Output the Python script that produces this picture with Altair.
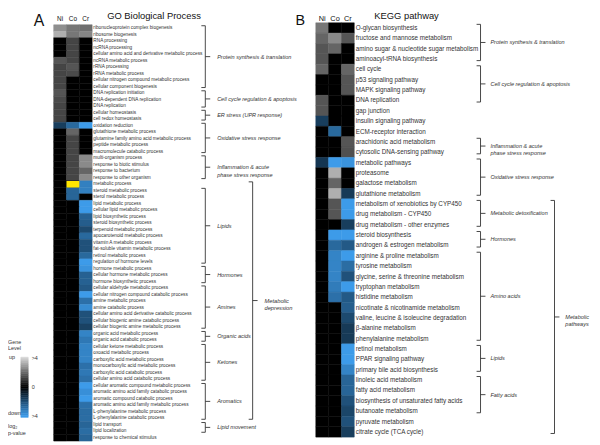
import altair as alt
import pandas as pd

FONT = "Liberation Sans"
INK = "#333333"

samples = ["Ni", "Co", "Cr"]

# ---------------- GO Biological Process (panel A) ----------------
go_terms = [
    "ribonucleoprotein complex biogenesis", "ribosome biogenesis", "RNA processing",
    "ncRNA processing", "cellular amino acid and derivative metabolic process",
    "ncRNA metabolic process", "rRNA processing", "rRNA metabolic process",
    "cellular nitrogen compound metabolic process", "cellular component biogenesis",
    "DNA replication initiation", "DNA-dependent DNA replication", "DNA replication",
    "cellular homeostasis", "cell redox homeostasis", "oxidation reduction",
    "glutathione metabolic process", "glutamine family amino acid metabolic process",
    "peptide metabolic process", "macromolecule catabolic process", "multi-organism process",
    "response to biotic stimulus", "response to bacterium", "response to other organism",
    "metabolic process", "steroid metabolic process", "sterol metabolic process",
    "lipid metabolic process", "cellular lipid metabolic process", "lipid biosynthetic process",
    "steroid biosynthetic process", "terpenoid metabolic process",
    "apocarotenoid metabolic process", "vitamin A metabolic process",
    "fat-soluble vitamin metabolic process", "retinol metabolic process",
    "regulation of hormone levels", "hormone metabolic process",
    "cellular hormone metabolic process", "hormone biosynthetic process",
    "cellular aldehyde metabolic process", "cellular nitrogen compound catabolic process",
    "amine metabolic process", "amine catabolic process",
    "cellular amino acid derivative catabolic process",
    "cellular biogenic amine catabolic process", "cellular biogenic amine metabolic process",
    "organic acid metabolic process", "organic acid catabolic process",
    "cellular ketone metabolic process", "oxoacid metabolic process",
    "carboxylic acid metabolic process", "monocarboxylic acid metabolic process",
    "carboxylic acid catabolic process", "cellular amino acid catabolic process",
    "cellular aromatic compound metabolic process",
    "aromatic amino acid family catabolic process", "aromatic compound catabolic process",
    "aromatic amino acid family metabolic process", "L-phenylalanine metabolic process",
    "L-phenylalanine catabolic process", "lipid transport", "lipid localization",
    "response to chemical stimulus",
]
go_ni = [2.7, 3.3, 0, 0, 0, 1.6, 1.3, 1.3, 1.3, 1.3, 1.6, 1.4, 1.3, 1.3, 1.3, -1.6,
         0, 0, 0, 0, 0, 0, 0, 0, 0, 0, 0, 0, 0, 0, 0, 0, 0, 0, 0, 0, 0, 0, 0, 0,
         0, 0, 0, 0, 0, 0, 0, 0, 0, 0, 0, 0, 0, 0, 0, 0, 0, 0, 0, 0, 0, 0, 0, 0]
go_co = [2.25, 2.25, 1.3, 1.3, 1.3, 1.3, 1.6, 1.4, 0, 0, 0, 0, 0, 0, 0, -2.7,
         1.9, 1.3, 1.3, 1.3, 1.3, 1.3, 1.3, 1.3, 0, -2.6, -2.6, 0, 0, 0, 0, 0,
         0, 0, 0, 0, 0, 0, 0, 0, 0, 0, 0, 0, 0, 0, 0, 0, 0, 0, 0, 0, 0, 0, 0, 0,
         0, 0, 0, 0, 0, 0, 0, 0]
go_cr = [2.1, 2.5, 0, 0, 0, 0, 0, 0, 0, 0, 0, 0, 0, 0, 0, -4,
         0, 0, 0, 0, 2.6, 2.6, 1.9, 2.6, -3.3, -3.3, 0, -4, -4, -2.5, -2.4, -1.9,
         -2.7, -2.1, -2.1, -2.7, -4, -3.8, -2.5, -2.5, -2.3, -4, -2.9, -3.6, -2.1, -2.1, -1.7, -3.4,
         -3.1, -3.4, -3.4, -3.4, -2.9, -3.1, -2.9, -4, -3.7, -4, -2.9, -2.8, -2.8, -2.6, -2.8, -2.6]
go_highlight_terms = ["metabolic process"]
go_highlight_samples = ["Co"]

go_group_labels = ["Protein synthesis & translation", "Cell cycle regulation &  apoptosis",
                   "ER stress (UPR response)", "Oxidative stress response",
                   "Inflammation & acute\nphase stress response", "Lipids", "Hormones",
                   "Amines", "Organic acids", "Ketones", "Aromatics", "Lipid movement"]
go_group_first = [0, 10, 13, 15, 20, 25, 37, 40, 47, 49, 55, 61]
go_group_last = [9, 12, 14, 19, 23, 36, 39, 46, 48, 54, 60, 62]
go_super_labels = ["Metabolic\ndepression"]
go_super_first = [24]
go_super_last = [60]

# ---------------- KEGG pathway (panel B) ----------------
kegg_terms = [
    "O-glycan biosynthesis", "fructose and mannose metabolism",
    "amino sugar & nucleotide sugar metabolism", "aminoacyl-tRNA biosynthesis", "cell cycle",
    "p53 signaling pathway", "MAPK signaling pathway", "DNA replication", "gap junction",
    "insulin signaling pathway", "ECM-receptor interaction", "arachidonic acid metabolism",
    "cytosolic DNA-sensing pathway", "metabolic pathways", "proteasome",
    "galactose metabolism", "glutathione metabolism", "metabolism of xenobiotics by CYP450",
    "drug metabolism - CYP450", "drug metabolism - other enzymes", "steroid biosynthesis",
    "androgen & estrogen metabolism", "arginine & proline metabolism", "tyrosine metabolism",
    "glycine, serine & threonine metabolism", "tryptophan metabolism", "histidine metabolism",
    "nicotinate & nicotinamide metabolism", "valine, leucine & isoleucine degradation",
    "β-alanine metabolism", "phenylalanine metabolism", "retinol metabolism",
    "PPAR signaling pathway", "primary bile acid biosynthesis", "linoleic acid metabolism",
    "fatty acid metabolism", "biosynthesis of unsaturated fatty acids", "butanoate metabolism",
    "pyruvate metabolism", "citrate cycle (TCA cycle)",
]
kegg_ni = [2.25, 1.9, 1.6, 1.6, 1.9, 0, 0, 1.6, 1.6, -1.6, 0, 0, 0, -1.4, 0, 0, 0, 0, 0, 0,
           0, 0, 0, 0, 0, 0, 0, 0, 0, 0, 0, 0, 0, 0, 0, 0, 0, 0, 0, 0]
kegg_co = [0, 2.6, 1.9, 0, 0, 0, 0, 0, 0, 0, -2.7, 0, 0, -4, 3.3, 1.9, 3.3, 1.6, 1.6, 0,
           -4, -2.7, -3.4, -3.4, -3.4, -3.2, -2.9, 0, 0, 0, 0, 0, 0, 0, 0, 0, 0, 0, 0, 0]
kegg_cr = [0, 1.6, 0, 0, 1.9, 1.6, 1.6, 0, 0, 0, 0, 1.6, 1.5, -3.8, 0, 0, -1.5, -4, -4, -1.6,
           -4, -2.3, -4, -2.8, -2.1, -4, -2.3, -2.4, -1.9, -1.5, -1.5, -4, -4, -3.4, -2.6, -2.6,
           -2.1, -1.8, -2.1, -1.6]

kegg_group_labels = ["Protein synthesis & translation", "Cell cycle regulation &  apoptosis",
                     "Inflammation & acute\nphase stress response", "Oxidative stress response",
                     "Metabolic detoxification", "Hormones", "Amino acids", "Lipids",
                     "Fatty acids"]
kegg_group_first = [0, 4, 11, 13, 17, 20, 22, 31, 34]
kegg_group_last = [3, 7, 12, 16, 19, 21, 30, 33, 37]
kegg_super_labels = ["Metabolic\npathways"]
kegg_super_first = [17]
kegg_super_last = [39]

# ---------------- legend ----------------
legend_levels = [4 - 0.25 * k for k in range(33)]
legend_tick_text = [">4", "0", ">4"]
legend_tick_vals = [4, 0, -4]

color_scale = alt.Scale(domain=[-4, 0, 4], range=["#3d9be9", "#000000", "#d4d4d4"],
                        clamp=True, interpolate="rgb")


def panel(terms, ni, co, cr, x0, x1, y0, y1, label_x, label_size, header_y, header_size,
          groups, supers, hl_terms=(), hl_samples=()):
    n = len(terms)
    xs = alt.Scale(domain=[0, 3], range=[x0, x1])
    ys = alt.Scale(domain=[0, n], range=[y0, y1])
    rows = []
    for i, t in enumerate(terms):
        for j, vals in enumerate([ni, co, cr]):
            rows.append(dict(term=t, smp=samples[j], r0=i, r1=i + 1, c0=j, c1=j + 1,
                             v=vals[i]))
    cells = pd.DataFrame(rows)
    layers = []
    layers.append(alt.Chart(cells).mark_rect(strokeWidth=0.5).encode(
        x=alt.X("c0:Q", scale=xs, axis=None), x2="c1:Q",
        y=alt.Y("r0:Q", scale=ys, axis=None), y2="r1:Q",
        color=alt.Color("v:Q", scale=color_scale, legend=None),
        stroke=alt.Stroke("v:Q", scale=color_scale, legend=None)))
    if len(hl_terms):
        keys = set(zip(hl_terms, hl_samples))
        mask = [(t, s) in keys for t, s in zip(cells["term"], cells["smp"])]
        hl = cells[mask]
        layers.append(alt.Chart(hl).mark_rect(color="#ffe600", strokeWidth=0).encode(
            x=alt.X("c0:Q", scale=xs, axis=None), x2="c1:Q",
            y=alt.Y("r0:Q", scale=ys, axis=None), y2="r1:Q"))
    lab = pd.DataFrame({"term": terms, "rc": [i + 0.5 for i in range(n)]})
    layers.append(alt.Chart(lab).mark_text(align="left", baseline="middle", font=FONT,
                                           fontSize=label_size, color=INK).encode(
        x=alt.value(label_x), y=alt.Y("rc:Q", scale=ys, axis=None), text="term:N"))
    hd = pd.DataFrame({"s": samples, "c": [0.5, 1.5, 2.5]})
    layers.append(alt.Chart(hd).mark_text(align="center", baseline="alphabetic", font=FONT,
                                          fontSize=header_size, color="#111").encode(
        x=alt.X("c:Q", scale=xs, axis=None), y=alt.value(header_y), text="s:N"))
    for (labels, first, last, xv, xl, fsize) in [groups, supers]:
        df = pd.DataFrame({"label": labels, "first": first, "last": last})
        df["top"] = df["first"] + 0.15
        df["bottom"] = df["last"] + 0.65
        df["mid"] = (df["top"] + df["bottom"]) / 2
        base = alt.Chart(df)
        rule = dict(color=INK, strokeWidth=0.9)
        layers.append(base.mark_rule(**rule).encode(
            x=alt.value(xv), y=alt.Y("top:Q", scale=ys, axis=None), y2="bottom:Q"))
        layers.append(base.mark_rule(**rule).encode(
            x=alt.value(xv - 4), x2=alt.value(xv), y=alt.Y("top:Q", scale=ys, axis=None)))
        layers.append(base.mark_rule(**rule).encode(
            x=alt.value(xv - 4), x2=alt.value(xv), y=alt.Y("bottom:Q", scale=ys, axis=None)))
        layers.append(base.mark_rule(**rule).encode(
            x=alt.value(xv), x2=alt.value(xv + 5), y=alt.Y("mid:Q", scale=ys, axis=None)))
        layers.append(base.mark_text(align="left", baseline="middle", font=FONT,
                                     fontStyle="italic", fontSize=fsize, color=INK,
                                     lineBreak="\n", lineHeight=fsize * 1.35).encode(
            x=alt.value(xl), y=alt.Y("mid:Q", scale=ys, axis=None), text="label:N"))
    return layers


layers = []
layers += panel(go_terms, go_ni, go_co, go_cr, 46.3, 85.3, 14, 436, 86.5, 4.8, 10.5, 6.5,
                (go_group_labels, go_group_first, go_group_last, 200, 212, 5.6),
                (go_super_labels, go_super_first, go_super_last, 248, 260, 5.8),
                go_highlight_terms, go_highlight_samples)
layers += panel(kegg_terms, kegg_ni, kegg_co, kegg_cr, 312, 351, 12, 432, 352.5, 6.4, 10.5, 7.5,
                (kegg_group_labels, kegg_group_first, kegg_group_last, 479, 489, 5.6),
                (kegg_super_labels, kegg_super_first, kegg_super_last, 554, 565, 5.6))


def note(txt, x, y, size, align="left", weight="normal", baseline="alphabetic", color="#111"):
    return alt.Chart(pd.DataFrame({"t": [txt]})).mark_text(
        align=align, baseline=baseline, font=FONT, fontSize=size, fontWeight=weight,
        color=color).encode(x=alt.value(x), y=alt.value(y), text="t:N")


layers += [
    note("A", 26, 15.3, 16),
    note("B", 291.5, 14.7, 14.5),
    note("GO Biological Process", 148, 8.5, 9.5, align="center"),
    note("KEGG pathway", 404, 8.5, 9.5, align="center"),
]

# legend gradient
lg = pd.DataFrame({"v": legend_levels})
lg["top"] = lg["v"] + 0.125
lg["bot"] = lg["v"] - 0.125
lys = alt.Scale(domain=[4.125, -4.125], range=[351, 412])
layers.append(alt.Chart(lg).mark_rect(strokeWidth=0.5).encode(
    x=alt.value(13), x2=alt.value(20.5),
    y=alt.Y("top:Q", scale=lys, axis=None), y2="bot:Q",
    color=alt.Color("v:Q", scale=color_scale, legend=None),
    stroke=alt.Stroke("v:Q", scale=color_scale, legend=None)))
lt = pd.DataFrame({"t": legend_tick_text, "v": legend_tick_vals})
layers.append(alt.Chart(lt).mark_text(align="left", baseline="middle", font=FONT,
                                      fontSize=5.5, color=INK).encode(
    x=alt.value(24), y=alt.Y("v:Q", scale=lys, axis=None), text="t:N"))
layers += [
    note("Gene", 0, 336, 5.5, baseline="middle", color=INK),
    note("Level", 0, 342, 5.5, baseline="middle", color=INK),
    note("up", 1, 351, 5.5, baseline="middle", color=INK),
    note("down", 0, 408, 5.5, baseline="middle", color=INK),
    note("log\u2082", 0, 421, 5.5, baseline="middle", color=INK),
    note("p-value", 0, 428, 5.5, baseline="middle", color=INK),
]

chart = alt.layer(*layers).resolve_scale(
    x="independent", y="independent"
).properties(
    width=592, height=437, padding=0, autosize="none"
).configure_view(stroke=None)

chart.save("out.html", embed_options={"renderer": "svg", "actions": False})
